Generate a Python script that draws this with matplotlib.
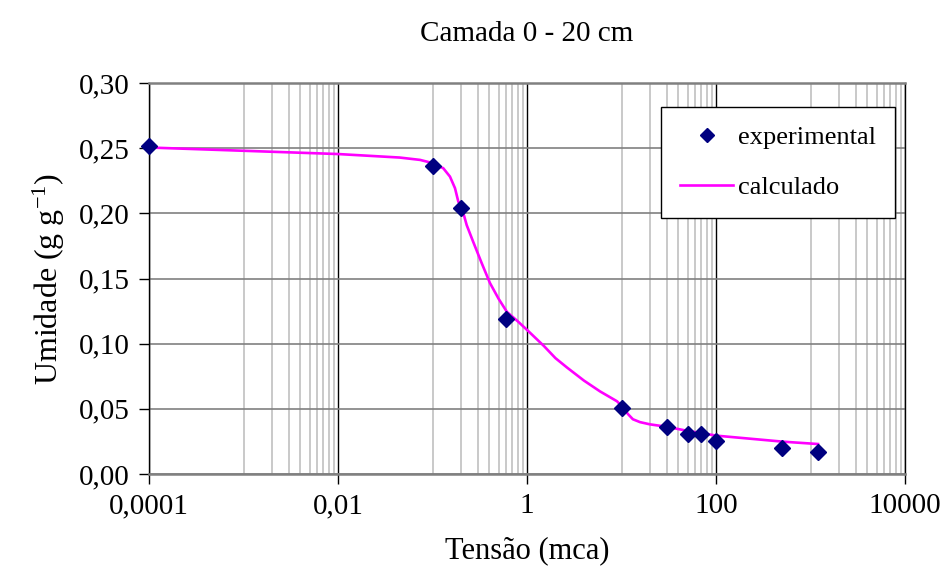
import numpy as np
import matplotlib
matplotlib.use('Agg')
import matplotlib.pyplot as plt
from matplotlib.ticker import FixedLocator, FuncFormatter, NullFormatter

# data
exp_x = [0.0001, 0.1, 0.2, 0.6, 10, 30, 50, 70, 100, 500, 1200]
exp_y = [0.252, 0.236, 0.204, 0.119, 0.051, 0.036, 0.031, 0.031, 0.025, 0.020, 0.017]

calc_x = [0.0001, 0.001, 0.01, 0.045, 0.0738, 0.101, 0.130, 0.153, 0.173, 0.1875,
          0.204, 0.230, 0.270, 0.332, 0.405, 0.5, 0.614, 0.8, 1.03, 1.51, 2.0, 2.65,
          4.0, 5.92, 8.96, 10.1, 11.7, 13.2, 15.7, 20.0, 30.3, 50.6, 72.8, 101.6,
          512, 1200]
calc_y = [0.2505, 0.248, 0.2455, 0.2428, 0.241, 0.2385, 0.2346, 0.2282, 0.2193, 0.209,
          0.2045, 0.191, 0.178, 0.1617, 0.1466, 0.1345, 0.1243, 0.1171, 0.1097, 0.0982,
          0.0889, 0.0817, 0.0717, 0.0634, 0.0558, 0.0520, 0.0460, 0.0420, 0.0398, 0.0381,
          0.0362, 0.0330, 0.0312, 0.0294, 0.0248, 0.023]

x_major = [1e-4, 1e-2, 1, 100, 1e4]
x_labels = ['0,0001', '0,01', '1', '100', '10000']
y_ticks = [0.0, 0.05, 0.10, 0.15, 0.20, 0.25, 0.30]

plt.rcParams['font.family'] = ['Liberation Serif', 'DejaVu Serif']
plt.rcParams['mathtext.fontset'] = 'custom'
plt.rcParams['mathtext.rm'] = 'Liberation Serif'
plt.rcParams['mathtext.it'] = 'Liberation Serif:italic'

fig = plt.figure(figsize=(9.46, 5.67), dpi=100)
ax = fig.add_axes([149/946, 1 - 474/567, 756/946, 391/567])

ax.plot(calc_x, calc_y, color='#FF00FF', lw=1.9, label='calculado', zorder=3,
        solid_joinstyle='round')
ax.plot(exp_x, exp_y, ls='none', marker='D', ms=8.5, color='#000080',
        label='experimental', zorder=4, clip_on=False)

ax.set_xscale('log')
ax.set_xlim(1e-4, 1e4)
ax.set_ylim(0, 0.30)

# minor lines every 10x inside each 100x span (Excel style)
minors = []
for base in x_major[:-1]:
    minors += [j * base * 10 for j in range(1, 10)]
ax.xaxis.set_major_locator(FixedLocator(x_major))
ax.xaxis.set_minor_locator(FixedLocator(minors))
ax.xaxis.set_minor_formatter(NullFormatter())
ax.set_xticklabels(x_labels)
ax.set_yticks(y_ticks)
ax.yaxis.set_major_formatter(FuncFormatter(lambda v, p: f'{v:.2f}'.replace('.', ',')))
ax.yaxis.set_minor_locator(FixedLocator([]))

ax.grid(True, which='minor', axis='x', color='#c0c0c0', lw=1.2)
ax.grid(True, which='major', axis='x', color='black', lw=1.0)
ax.grid(True, which='major', axis='y', color='#808080', lw=1.2)
ax.set_axisbelow(True)

for s in ('left', 'right'):
    ax.spines[s].set_color('black')
    ax.spines[s].set_linewidth(1.0)
for s in ('top', 'bottom'):
    ax.spines[s].set_color('#808080')
    ax.spines[s].set_linewidth(1.8)

ax.tick_params(which='major', direction='out', length=7, width=1.0,
               labelsize=21, color='black', pad=7)
ax.tick_params(which='minor', length=0)

ax.set_xlabel('Tensão (mca)', fontsize=22, labelpad=12)
ax.set_ylabel('Umidade (g g$^{-1}$)', fontsize=23, labelpad=8)
ax.set_title('Camada 0 - 20 cm', fontsize=21, pad=30)

h, l = ax.get_legend_handles_labels()
leg = ax.legend(h[::-1], l[::-1], loc='upper right', bbox_to_anchor=(0.987, 0.939),
                borderaxespad=0, fontsize=19, frameon=True, fancybox=False,
                handlelength=2.0, handletextpad=0.2, labelspacing=1.0,
                borderpad=0.72, numpoints=1, markerscale=0.8)
leg.get_frame().set_edgecolor('black')
leg.get_frame().set_linewidth(1.0)
leg.get_frame().set_alpha(1)

fig.savefig('out.png', dpi=100)
